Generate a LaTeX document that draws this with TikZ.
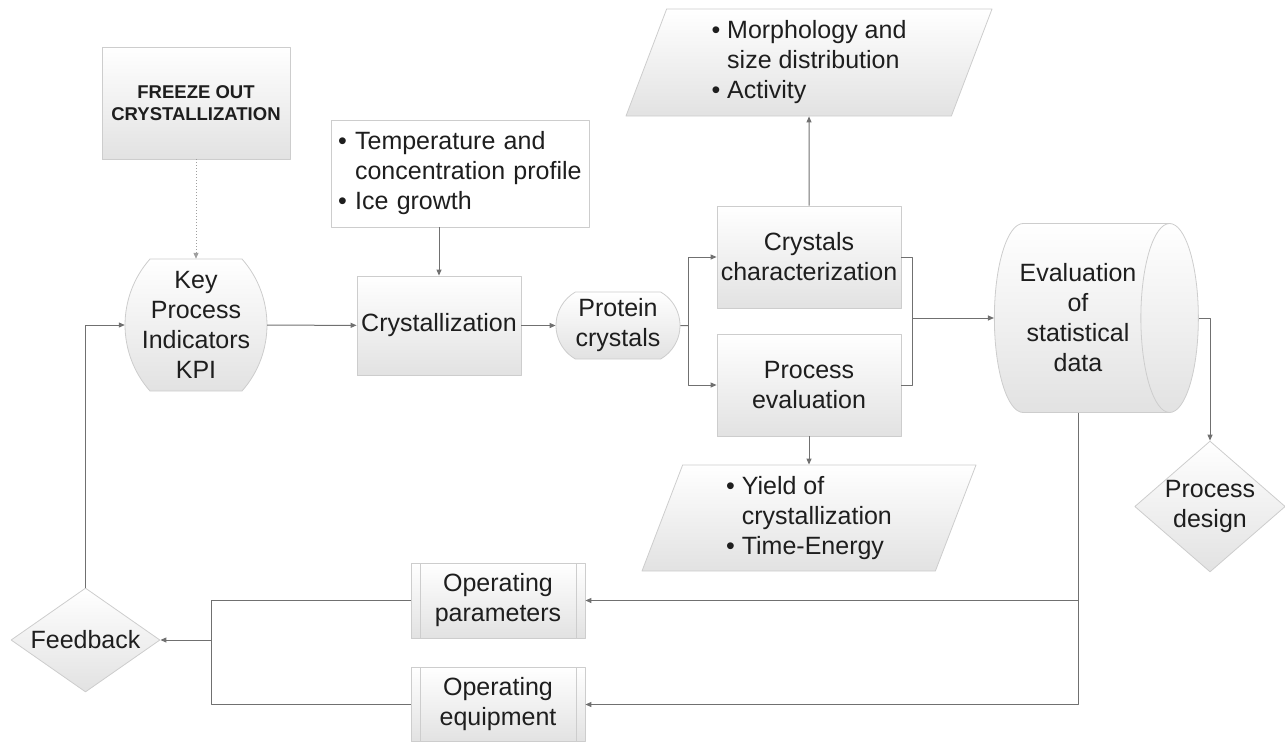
\documentclass[tikz,border=0pt]{standalone}
\usepackage{fontspec}
\setmainfont{Liberation Sans}
\usetikzlibrary{arrows.meta,shapes.geometric,shapes.misc}
\definecolor{linegray}{RGB}{112,112,112}
\definecolor{edgegray}{RGB}{205,205,205}
\definecolor{fillgray}{RGB}{226,226,226}
\definecolor{textgray}{RGB}{30,30,30}
\newcommand{\bul}{\textbullet\ }
\newcommand{\ind}{\phantom{\textbullet\ }}
\begin{document}
\begin{tikzpicture}[x=1pt, y=-1pt, font=\fontsize{25}{30}\selectfont, text=textgray, line join=round, >={Triangle[length=6pt,width=5pt]},
		grad/.style={draw=edgegray, line width=.8pt, top color=white, bottom color=fillgray},
		procbox/.style={grad, rectangle, align=center, inner sep=0pt},
		subproc/.style={procbox, path picture={
				\draw[edgegray, line width=.8pt] ([xshift=9pt]path picture bounding box.north west) -- ([xshift=9pt]path picture bounding box.south west);
				\draw[edgegray, line width=.8pt] ([xshift=-9pt]path picture bounding box.north east) -- ([xshift=-9pt]path picture bounding box.south east);}},
		slanted/.style={grad, trapezium, trapezium left angle=64, trapezium right angle=116, trapezium stretches body, align=left, inner sep=0pt},
		link/.style={draw=linegray, line width=1pt},
		arr/.style={link, ->}]
	\useasboundingbox (0,0) rectangle (1285,742);
	%\draw[gray!30] (0,0) grid[step=50] (1285,742);
	\node[procbox, minimum width=188pt, minimum height=112pt, font=\fontsize{18.5}{22}\selectfont\bfseries] (freeze) at (196,103) {FREEZE OUT\\CRYSTALLIZATION};
	% barrel outline of the KPI terminal
	\path[grad] (150,259) -- (242,259) .. controls (275.3,296.7) and (275.3,353.3) .. (242,391) -- (150,391) .. controls (116.7,353.3) and (116.7,296.7) .. cycle;
	\node[minimum width=142pt, minimum height=132pt, inner sep=0pt, align=center] (kpi) at (196,325) {Key\\Process\\Indicators\\KPI};
	\node[draw=edgegray, line width=.8pt, fill=white, minimum height=107pt, text width=244pt, inner xsep=7pt, align=left] (temp) at (460,173.5) {\bul Temperature and\\\ind concentration profile\\\bul Ice growth};
	\node[procbox, minimum width=164pt, minimum height=99pt] (cryst) at (439,325.5) {Crystallization};
	\node[grad, rounded rectangle, rounded rectangle arc length=120, minimum width=118pt, minimum height=67pt, inner xsep=-3pt, align=center] (protein) at (618,325.5) {Protein\\crystals};
	\node[procbox, minimum width=184pt, minimum height=102pt] (char) at (809,257) {Crystals\\characterization};
	\node[procbox, minimum width=184pt, minimum height=102pt] (proceval) at (809,385) {Process\\evaluation};
	\node[slanted, minimum width=366pt, minimum height=107pt] (morph) at (809,62.5) {\bul Morphology and\\\ind size distribution\\\bul Activity};
	\node[slanted, minimum width=334pt, minimum height=106pt] (yield) at (809,518) {\bul Yield of\\\ind crystallization\\\bul Time-Energy};
	\node[grad, cylinder, shape aspect=.5, minimum height=204pt, minimum width=189pt, align=center] (eval) at (1078,318) {Evaluation\\of\\statistical\\data};
	\node[grad, diamond, aspect=1.15, minimum width=148pt, minimum height=129pt, inner sep=0pt, align=center] (design) at (1210,506.5) {Process\\design};
	\node[grad, diamond, aspect=1.43, minimum width=149pt, minimum height=104pt, inner sep=0pt] (feedback) at (85.5,640) {Feedback};
	\node[subproc, minimum width=174pt, minimum height=75pt] (params) at (498,600.5) {Operating\\parameters};
	\node[subproc, minimum width=174pt, minimum height=74pt] (equip) at (498,704.5) {Operating\\equipment};
	\coordinate (split) at (688,325.5);
	\coordinate (join) at (912,318);
	\coordinate (merge) at (211,640);
	\draw[arr, draw=gray!75, dash pattern=on 1pt off 2pt] (freeze) -- (kpi);
	\draw[arr] (kpi) -- (cryst);
	\draw[arr] (temp.south -| cryst) -- (cryst);
	\draw[arr] (cryst) -- (protein);
	\draw[link] (protein) -- (split);
	\draw[arr] (split) |- (char);
	\draw[arr] (split) |- (proceval);
	\draw[arr] (char) -- (morph);
	\draw[arr] (proceval) -- (yield);
	\draw[link] (char) -| (join);
	\draw[link] (proceval) -| (join);
	\draw[arr] (join) -- (eval);
	\draw[arr] (eval) -| (design);
	\draw[arr] (eval) |- (params);
	\draw[arr] (eval) |- (equip);
	\draw[link] (params) -| (merge);
	\draw[link] (equip) -| (merge);
	\draw[arr] (merge) -- (feedback);
	\draw[arr] (feedback) |- (kpi);
\end{tikzpicture}
\end{document}
